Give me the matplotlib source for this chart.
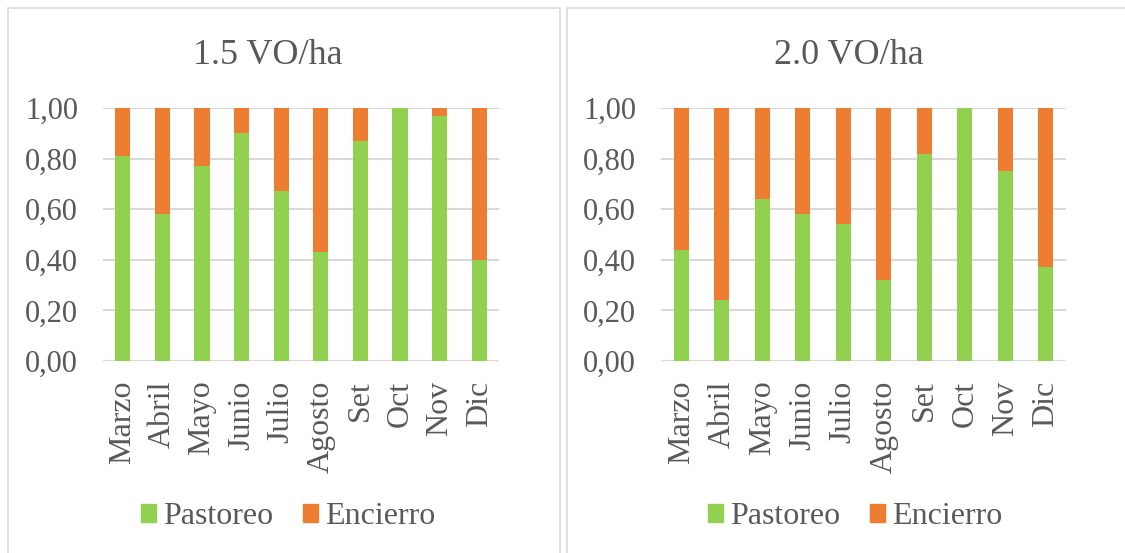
import numpy as np
import matplotlib
matplotlib.use("Agg")
import matplotlib.pyplot as plt
from matplotlib.patches import Rectangle, Patch
from matplotlib.ticker import FuncFormatter

plt.rcParams['font.family'] = ['Liberation Serif', 'DejaVu Serif']

months = ["Marzo", "Abril", "Mayo", "Junio", "Julio", "Agosto", "Set", "Oct", "Nov", "Dic"]
titles = ["1.5 VO/ha", "2.0 VO/ha"]

# proporcion de pastoreo por mes (encierro = 1 - pastoreo)
pastoreo_15 = [0.81, 0.58, 0.77, 0.90, 0.67, 0.43, 0.87, 1.00, 0.97, 0.40]
encierro_15 = [0.19, 0.42, 0.23, 0.10, 0.33, 0.57, 0.13, 0.00, 0.03, 0.60]
pastoreo_20 = [0.44, 0.24, 0.64, 0.58, 0.54, 0.32, 0.82, 1.00, 0.75, 0.37]
encierro_20 = [0.56, 0.76, 0.36, 0.42, 0.46, 0.68, 0.18, 0.00, 0.25, 0.63]

green = "#92D050"
orange = "#ED7D31"
grey_txt = "#595959"
grid_c = "#D9D9D9"

W, H = 1125, 553
fig = plt.figure(figsize=(W / 100, H / 100), dpi=100)

def fx(px):
    return px / W

def fy(py):
    return 1 - py / H

# panel borders
for x0, x1 in [(8, 560), (567, 1130)]:
    fig.patches.append(Rectangle((fx(x0), fy(560)), fx(x1 - x0), (560 - 8) / H,
                                 transform=fig.transFigure, fill=False,
                                 edgecolor=grid_c, linewidth=1.2))

panels = [
    (103, 396, 268, 141, pastoreo_15, encierro_15),
    (661, 405, 849, 708, pastoreo_20, encierro_20),
]

x = np.arange(len(months))
for (left, width, tcx, legx, past, enc), title in zip(panels, titles):
    ax = fig.add_axes([fx(left), fy(361), fx(width), (361 - 108) / H])
    ax.bar(x, past, width=0.38, color=green, zorder=3)
    ax.bar(x, enc, width=0.38, bottom=past, color=orange, zorder=3)
    ax.set_xlim(-0.5, len(months) - 0.5)
    ax.set_ylim(0, 1.0)
    ax.set_yticks(np.arange(0, 1.01, 0.2))
    ax.yaxis.set_major_formatter(FuncFormatter(lambda v, p: f"{v:.2f}".replace(".", ",")))
    ax.set_xticks(x)
    ax.set_xticklabels(months, rotation=90)
    ax.tick_params(axis="both", length=0, colors=grey_txt)
    ax.tick_params(axis="y", pad=18, labelsize=22)
    ax.tick_params(axis="x", pad=14, labelsize=23)
    ax.grid(axis="y", color=grid_c, linewidth=1.5, zorder=0)
    ax.axhline(0, color=grid_c, linewidth=1.5, zorder=1)
    for s in ax.spines.values():
        s.set_visible(False)
    fig.text(fx(tcx), fy(55), title, ha="center", va="center", fontsize=26, color=grey_txt)
    handles = [Patch(color=green, label="Pastoreo"), Patch(color=orange, label="Encierro")]
    fig.legend(handles=handles, loc="center left", bbox_to_anchor=(fx(legx), fy(517)),
               ncol=2, frameon=False, fontsize=23, handlelength=0.47, handleheight=0.47,
               handletextpad=0.22, columnspacing=0.94, labelcolor=grey_txt,
               borderpad=0, borderaxespad=0)

fig.savefig("out.png", dpi=100)
